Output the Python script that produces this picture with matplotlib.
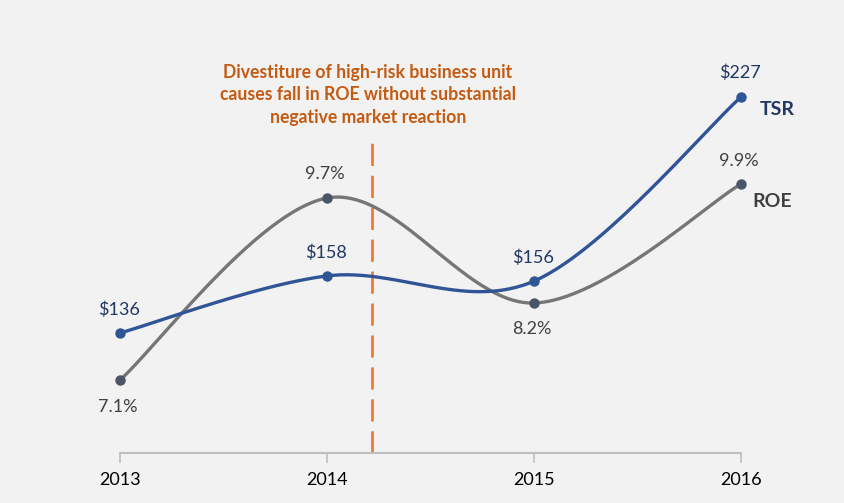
import numpy as np
import matplotlib
matplotlib.use("Agg")
import matplotlib.pyplot as plt

years = ["2013", "2014", "2015", "2016"]
tsr = [136, 158, 156, 227]
roe = [7.1, 9.7, 8.2, 9.9]
tsr_labels = ["$136", "$158", "$156", "$227"]
roe_labels = ["7.1%", "9.7%", "8.2%", "9.9%"]
annotation = "Divestiture of high-risk business unit\ncauses fall in ROE without substantial\nnegative market reaction"
event_x = 1.217

plt.rcParams['font.family'] = ['Lato', 'DejaVu Sans']

BG = "#F2F2F2"
BLUE = "#2F5597"
GRAY = "#767676"
NAVY = "#1F3864"
DARK = "#404040"
ORANGE = "#C55A11"
DASH = "#ED7D31"


def smooth(x, y, n=60):
    x = np.asarray(x, float)
    y = np.asarray(y, float)
    P = np.column_stack([x, y])
    Pe = np.vstack([P[0], P, P[-1]])
    out = []
    for i in range(len(P) - 1):
        p0, p1, p2, p3 = Pe[i], Pe[i + 1], Pe[i + 2], Pe[i + 3]
        c1 = p1 + (p2 - p0) / 6.0
        c2 = p2 - (p3 - p1) / 6.0
        t = np.linspace(0, 1, n)[:, None]
        seg = ((1 - t) ** 3) * p1 + 3 * ((1 - t) ** 2) * t * c1 + 3 * (1 - t) * t ** 2 * c2 + t ** 3 * p2
        out.append(seg if i == 0 else seg[1:])
    s = np.vstack(out)
    return s[:, 0], s[:, 1]


fig = plt.figure(figsize=(8.44, 5.03), dpi=100, facecolor=BG)
ax = fig.add_axes([0, 50 / 503, 1, 453 / 503])
ax.set_facecolor(BG)
ax2 = ax.twinx()
ax2.patch.set_visible(False)

xi = np.arange(len(years))
ax.set_xlim(-120 / 207, (844 - 120) / 207)
ax.set_ylim(6.057, 12.529)
ax2.set_ylim(89.72, 264.4)

# ROE
sx, sy = smooth(xi, roe)
ax.plot(sx, sy, color=GRAY, lw=2.4, solid_capstyle='round', zorder=3)
ax.plot(xi, roe, 'o', color="#4A5568", ms=6.5, zorder=4)
# TSR
tx, ty = smooth(xi, tsr)
ax2.plot(tx, ty, color=BLUE, lw=2.4, solid_capstyle='round', zorder=3)
ax2.plot(xi, tsr, 'o', color=BLUE, ms=6.5, zorder=4)

# labels
roe_off = [-27, 24, -26, 23]
for i, (v, l) in enumerate(zip(roe, roe_labels)):
    ax.annotate(l, (xi[i], v), xytext=(-2, roe_off[i]), textcoords='offset pixels',
                ha='center', va='center', fontsize=13, color=DARK)
tsr_off = [23, 23, 23, 24]
for i, (v, l) in enumerate(zip(tsr, tsr_labels)):
    ax2.annotate(l, (xi[i], v), xytext=(-1, tsr_off[i]), textcoords='offset pixels',
                 ha='center', va='center', fontsize=13, color=NAVY)

ax2.annotate("TSR", (xi[-1], tsr[-1]), xytext=(19, -13), textcoords='offset pixels',
             ha='left', va='center', fontsize=14, fontweight='bold', color=NAVY)
ax.annotate("ROE", (xi[-1], roe[-1]), xytext=(11, -17), textcoords='offset pixels',
            ha='left', va='center', fontsize=14, fontweight='bold', color=DARK)

# event line
ax.axvline(event_x, ymin=0, ymax=(453 - 140) / 453, color=DASH, lw=2, dashes=(8, 3.5), zorder=2)
fig.text(368 / 844, 1 - 95 / 503, annotation, ha='center', va='center', fontsize=12.7,
         fontweight='bold', color=ORANGE, linespacing=1.4)

# axes styling
for a in (ax, ax2):
    for s in ('top', 'right', 'left', 'bottom'):
        a.spines[s].set_visible(False)
ax.spines['bottom'].set_visible(True)
ax.spines['bottom'].set_bounds(0, 3)
ax.spines['bottom'].set_color("#BFBFBF")
ax.spines['bottom'].set_linewidth(1.5)
ax.set_xticks(xi)
ax.set_xticklabels(years, fontsize=13, color="#000000")
ax.tick_params(axis='x', direction='out', length=7, width=1.2, color="#BFBFBF", pad=7)
ax.set_yticks([])
ax2.set_yticks([])
ax2.tick_params(axis='x', length=0)

fig.savefig("out.png", dpi=100, facecolor=BG)
